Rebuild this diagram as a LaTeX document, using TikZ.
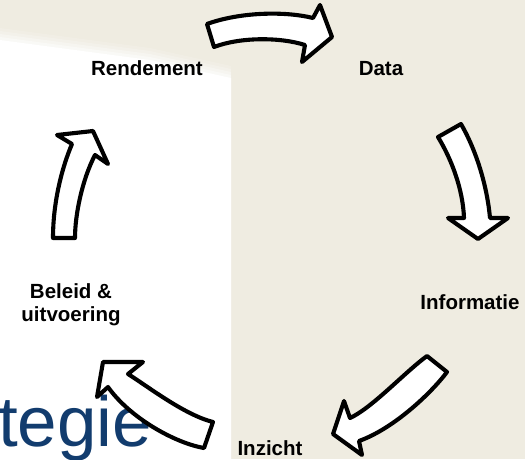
\documentclass[tikz,border=0pt]{standalone}
\usepackage{fontspec}
\setmainfont{Liberation Sans}
\definecolor{bg}{RGB}{239,236,225}
\definecolor{navy}{RGB}{18,60,110}
\begin{document}
\begin{tikzpicture}[x=1pt,y=-1pt,
  blockarrow/.style={draw=black,fill=white,line width=4.1pt,line join=round},
  lbl/.style={font=\bfseries\fontsize{20.5}{23}\selectfont,align=center,inner sep=0pt}]
\fill[bg] (0,0) rectangle (525,459);
\useasboundingbox (0,0) rectangle (525,459);
% soft white panel on the left
\foreach \d/\o in {12/0.15,9/0.2,6/0.3,3/0.4}{
  \fill[white,opacity=\o] (0,40-\d) -- (150,60-\d) -- (231,78-\d) -- (231,459) -- (0,459) -- cycle;
}
\fill[white] (0,40) -- (150,60) -- (231,78) -- (231,459) -- (0,459) -- cycle;
% title fragment
\node[anchor=base west,inner sep=0pt,text=navy,font=\fontsize{71}{71}\selectfont] (strat) at (-2,446) {tegie};
% labels
\node[lbl] (rend) at (147,68.5) {Rendement};
\node[lbl] (data) at (381,68.5) {Data};
\node[lbl] (info) at (470,302) {Informatie};
\node[lbl] (inz) at (270,448.5) {Inzicht};
\node[lbl,anchor=north] (bel) at (71,283.5) {Beleid \&\\uitvoering};
% arrow 1: Rendement -> Data
\draw[blockarrow] (207,24) .. controls (240,12) and (285,11) .. (313,18)
  -- (320,5) -- (332,37) -- (302,62) -- (305,45)
  .. controls (280,37) and (240,37) .. (214,47) -- cycle;
% arrow 2: Data -> Informatie
\draw[blockarrow] (438,137) -- (461,124)
  .. controls (476,150) and (487,185) .. (490,218)
  -- (508,218) -- (478,239) -- (448,218) -- (464,218)
  .. controls (463,190) and (452,160) .. cycle;
% arrow 3: Informatie -> Inzicht
\draw[blockarrow] (427,356) -- (447,372)
  .. controls (432,392) and (395,428) .. (359,441)
  -- (362,455) -- (333,434) -- (344,401) -- (350,418)
  .. controls (372,408) and (405,372) .. cycle;
% arrow 4: Inzicht -> Beleid
\draw[blockarrow] (213,422) -- (204,448)
  .. controls (175,443) and (130,418) .. (108,387)
  -- (97,397) -- (103,362) -- (143,362) -- (128,374)
  .. controls (150,388) and (185,415) .. cycle;
% arrow 5: Beleid -> Rendement
\draw[blockarrow] (53,238) -- (75,238)
  .. controls (75,215) and (82,180) .. (95,155)
  -- (108,164) -- (93,131) -- (57,135) -- (72,144)
  .. controls (63,165) and (53,200) .. cycle;
\end{tikzpicture}
\end{document}
